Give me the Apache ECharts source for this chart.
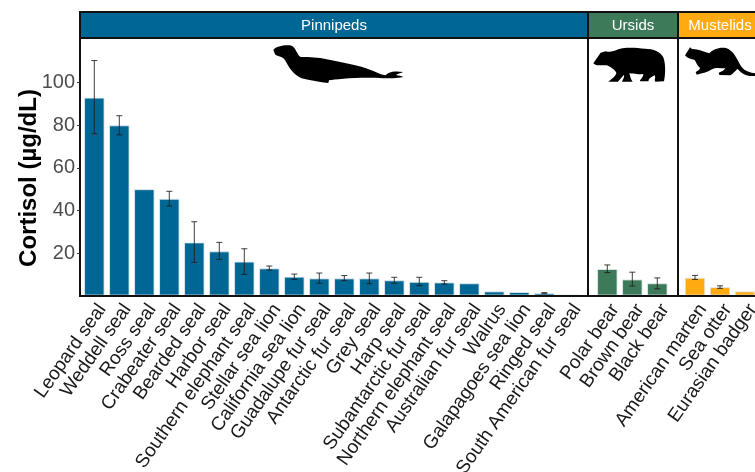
<!DOCTYPE html>
<html lang="en">
<head>
    <meta charset="UTF-8">
    <title>Cortisol</title>
    <script src="https://cdn.jsdelivr.net/npm/echarts@6/dist/echarts.min.js"></script>
    <style>
        html, body { margin: 0; padding: 0; background: #fff; overflow: hidden; }
    </style>
</head>
<body>
<div id="main" style="width: 755px;height:472px;"></div>

<script type="text/javascript">
    // values, error bars as low / high, null = no bar drawn
    var pinnipedNames = ['Leopard seal', 'Weddell seal', 'Ross seal', 'Crabeater seal', 'Bearded seal', 'Harbor seal',
        'Southern elephant seal', 'Stellar sea lion', 'California sea lion', 'Guadalupe fur seal', 'Antarctic fur seal',
        'Grey seal', 'Harp seal', 'Subantarctic fur seal', 'Northern elephant seal', 'Australian fur seal', 'Walrus',
        'Galapagoes sea lion', 'Ringed seal', 'South American fur seal'];
    var pinnipedValues = [93, 80, 50, 45.5, 25, 20.8, 16, 12.8, 8.9, 8.1, 8.1, 8.1, 7.2, 6.5, 6.2, 5.8, 2, 1.7, 1.2, 0.5];
    var pinnipedLow = [76, 75.5, null, 42, 15.6, 17, 10, 12, 7.6, 5.8, 7, 5.6, 5.8, 4.7, 5.4, null, null, null, 0.9, null];
    var pinnipedHigh = [110.4, 84.5, null, 49, 34.7, 25, 22, 13.9, 10.1, 10.6, 9.4, 10.6, 8.6, 8.6, 7, null, null, null, 1.4, null];

    var ursidNames = ['Polar bear', 'Brown bear', 'Black bear'];
    var ursidValues = [12.5, 7.6, 5.8];
    var ursidLow = [10.8, 4.5, 3.2];
    var ursidHigh = [14.4, 11, 8.3];

    var mustelidNames = ['American marten', 'Sea otter', 'Eurasian badger'];
    var mustelidValues = [8.4, 4, 2];
    var mustelidLow = [7.6, 3.4, null];
    var mustelidHigh = [9.5, 4.6, null];

    var yTicks = [20, 40, 60, 80, 100];

    var fontName = '"Liberation Sans", Arial, sans-serif';
    var blue = '#006794', green = '#3d7a5a', orange = '#ffaa11';
    var plotTop = 38, plotBottom = 295.6, bandWidth = 25, yMax = 121;

    // one facet = one grid, lined up so each band is 25px wide
    var facets = [
        {names: pinnipedNames, values: pinnipedValues, low: pinnipedLow, high: pinnipedHigh, color: blue, left: 81.8},
        {names: ursidNames, values: ursidValues, low: ursidLow, high: ursidHigh, color: green, left: 594.8},
        {names: mustelidNames, values: mustelidValues, low: mustelidLow, high: mustelidHigh, color: orange, left: 682.5}
    ];

    function renderError(params, api) {
        var low = api.coord([api.value(0), api.value(1)]);
        var high = api.coord([api.value(0), api.value(2)]);
        var style = {stroke: '#1c1c1c', lineWidth: 1, opacity: 0.85};
        return {
            type: 'group',
            children: [
                {type: 'line', shape: {x1: low[0], y1: low[1], x2: high[0], y2: high[1]}, style: style},
                {type: 'line', shape: {x1: low[0] - 3, y1: low[1], x2: low[0] + 3, y2: low[1]}, style: style},
                {type: 'line', shape: {x1: high[0] - 3, y1: high[1], x2: high[0] + 3, y2: high[1]}, style: style}
            ]
        };
    }

    var grids = [], xAxes = [], yAxes = [], series = [];
    facets.forEach(function (f, i) {
        grids.push({
            left: f.left,
            top: plotTop,
            width: f.names.length * bandWidth,
            height: plotBottom - plotTop,
            // long labels run off the page, the grid must not shrink for them
            outerBoundsMode: 'none'
        });
        xAxes.push({
            type: 'category',
            gridIndex: i,
            data: f.names,
            axisLine: {show: false},
            axisTick: {alignWithLabel: true, length: 3, lineStyle: {color: '#333'}},
            axisLabel: {
                interval: 0,
                rotate: 55,
                margin: 5,
                fontSize: 19,
                fontFamily: fontName,
                color: '#1a1a1a',
                verticalAlign: 'top'
            }
        });
        yAxes.push({
            type: 'value',
            gridIndex: i,
            min: 0,
            max: yMax,
            show: i === 0,
            offset: 1.8,
            splitLine: {show: false},
            axisLine: {show: true, lineStyle: {color: '#111', width: 2}},
            axisTick: {show: true, length: 3, customValues: yTicks, lineStyle: {color: '#333'}},
            axisLabel: {customValues: yTicks, margin: 5, padding: [6, 0, 0, 0], fontSize: 20, fontFamily: fontName, color: '#4d4d4d'}
        });
        series.push({
            type: 'bar',
            xAxisIndex: i,
            yAxisIndex: i,
            data: f.values,
            barWidth: 20.5,
            itemStyle: {color: f.color, borderColor: 'rgba(225,235,240,0.85)', borderWidth: 1}
        });
        var errData = [];
        f.names.forEach(function (n, k) {
            if (f.low[k] !== null) errData.push([k, f.low[k], f.high[k]]);
        });
        series.push({
            type: 'custom',
            xAxisIndex: i,
            yAxisIndex: i,
            renderItem: renderError,
            encode: {x: 0, y: [1, 2]},
            data: errData,
            z: 5
        });
    });

    // strips on top of the facets
    var strips = [
        {label: 'Pinnipeds', x1: 80, x2: 588, color: blue},
        {label: 'Ursids', x1: 588, x2: 678, color: green},
        {label: 'Mustelids', x1: 678, x2: 762, color: orange}
    ];
    var frameStyle = {stroke: '#111', lineWidth: 2};
    var graphics = [];
    strips.forEach(function (s) {
        graphics.push({
            type: 'rect',
            shape: {x: s.x1, y: 12, width: s.x2 - s.x1, height: plotTop - 12},
            style: {fill: s.color, stroke: '#111', lineWidth: 2},
            z: 10
        });
        graphics.push({
            type: 'text',
            x: (s.x1 + s.x2) / 2,
            y: 26,
            style: {text: s.label, fill: '#fff', fontSize: 15, fontFamily: fontName, align: 'center', verticalAlign: 'middle'},
            z: 11
        });
    });
    graphics.push({type: 'line', shape: {x1: 79, y1: 296, x2: 755, y2: 296}, style: frameStyle, z: 10});
    graphics.push({type: 'line', shape: {x1: 588, y1: plotTop, x2: 588, y2: 296}, style: frameStyle, z: 10});
    graphics.push({type: 'line', shape: {x1: 678, y1: plotTop, x2: 678, y2: 296}, style: frameStyle, z: 10});

    // y axis title, placed by hand because it is not centred on the panel
    graphics.push({
        type: 'text',
        x: 29,
        y: 178,
        rotation: Math.PI / 2,
        style: {text: 'Cortisol (µg/dL)', fill: '#000', fontSize: 24, fontWeight: 'bold', fontFamily: fontName, align: 'center', verticalAlign: 'middle'}
    });

    // animal silhouettes, traced at 3x and scaled back down
    var seal = 'M40 44 C50 34 75 28 95 32 C108 38 110 58 122 66 C150 66 175 67 200 73 C250 84 300 92 330 104 C350 112 362 118 376 121 C384 114 395 106 430 111 C418 116 410 118 408 120 C415 122 425 122 430 126 C410 130 385 130 370 130 C340 128 290 128 250 131 C230 133 215 134 207 136 L205 144 C180 142 150 136 125 130 C100 118 88 100 75 75 C68 64 50 64 45 58 Z';
    var bear = 'M10 70 C18 58 25 48 32 38 L47 34 C60 38 72 34 85 28 C110 20 140 24 165 26 C190 26 212 36 220 52 C228 75 226 105 222 124 L196 125 C192 120 198 112 194 106 C182 112 174 118 176 124 L150 124 C150 118 160 112 160 102 C145 104 130 102 118 100 C120 108 122 118 128 125 L96 125 C98 118 104 112 102 104 C95 112 88 120 84 125 L55 125 C65 116 78 108 79 98 C72 88 60 78 48 76 C35 74 20 80 10 70 Z';
    var mustelid = 'M15 46 C20 38 26 30 30 22 L36 27 C52 26 70 34 88 40 C100 28 120 20 140 25 C158 32 168 50 178 70 C186 85 195 96 225 100 L225 108 C205 110 188 104 172 86 C165 95 155 105 148 106 L118 105 L116 98 C125 95 132 92 136 85 C120 85 105 82 96 88 C85 96 68 100 50 104 L47 96 C55 92 60 88 60 84 C50 75 48 65 44 60 C35 58 22 55 15 46 Z';
    // the graphic component has no plain path type, so register each one as a shape
    echarts.graphic.registerShape('sealShape', echarts.graphic.extendPath(seal, {}));
    echarts.graphic.registerShape('bearShape', echarts.graphic.extendPath(bear, {}));
    echarts.graphic.registerShape('mustelidShape', echarts.graphic.extendPath(mustelid, {}));
    [['sealShape', 260, 35], ['bearShape', 590, 40], ['mustelidShape', 680, 40]].forEach(function (a) {
        graphics.push({
            type: a[0],
            x: a[1],
            y: a[2],
            scaleX: 1 / 3,
            scaleY: 1 / 3,
            style: {fill: '#000'},
            z: 9
        });
    });

    var myChart = echarts.init(document.getElementById('main'));
    myChart.setOption({
        animation: false,
        backgroundColor: '#fff',
        grid: grids,
        xAxis: xAxes,
        yAxis: yAxes,
        series: series,
        graphic: graphics
    });
</script>
</body>
</html>
